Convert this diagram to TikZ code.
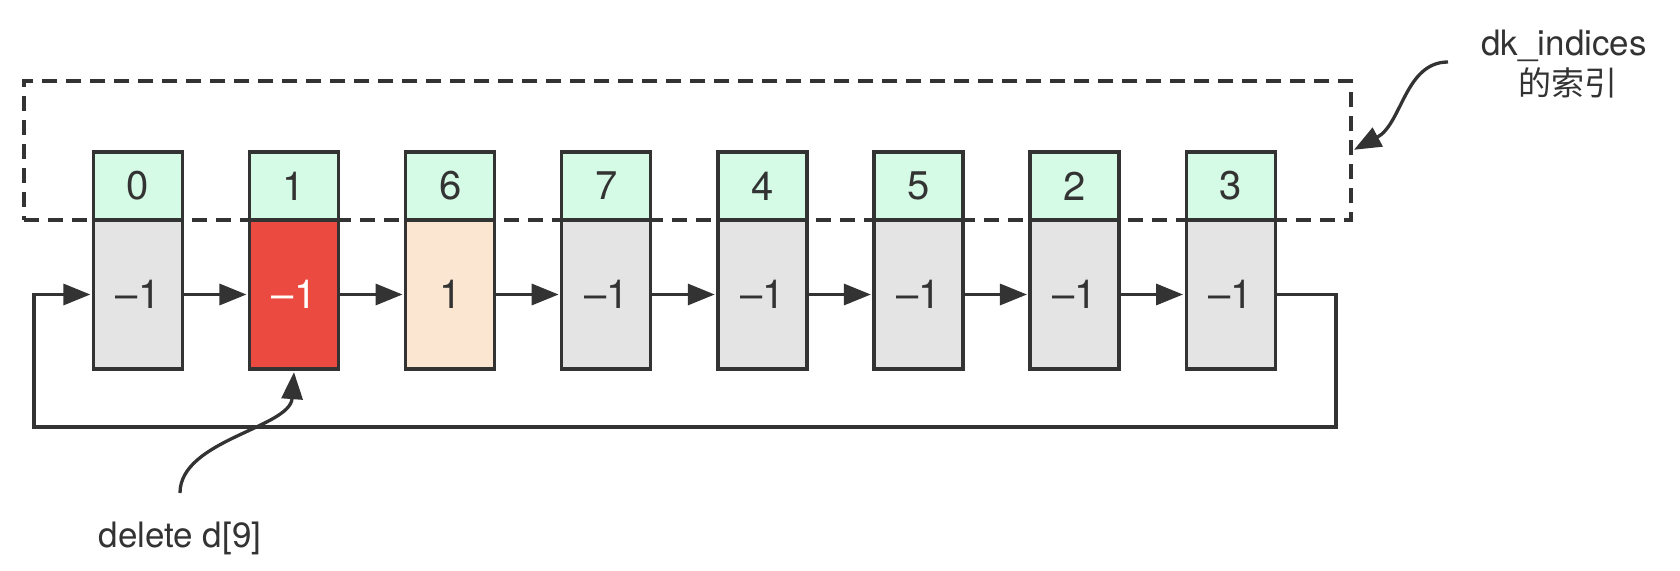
\documentclass[tikz,border=0pt]{standalone}
\usepackage{fontspec}
\setmainfont{TeX Gyre Heros}
\newfontfamily\cjk{Noto Sans CJK SC}
\usetikzlibrary{arrows.meta}
\definecolor{ln}{HTML}{333333}
\definecolor{topg}{HTML}{D5FAE6}
\definecolor{grayc}{HTML}{E4E4E4}
\definecolor{redc}{HTML}{EA4A40}
\definecolor{peach}{HTML}{FBE6D1}
\tikzset{
  cellbase/.style={draw=ln, line width=3.3pt, minimum width=89pt, inner sep=0pt,
    text=ln, font=\fontsize{40}{40}\selectfont},
  topcell/.style={cellbase, minimum height=68pt, fill=topg},
  botcell/.style={cellbase, minimum height=149pt, fill=grayc},
  conn/.style={draw=ln, line width=3.3pt, shorten >=1.5pt,
    -{Triangle[length=27pt,width=21pt]}},
  dashbox/.style={draw=ln, line width=3.3pt, dash pattern=on 15pt off 9pt, inner sep=0pt,
    minimum width=1327pt, minimum height=139pt},
  lbl/.style={text=ln, font=\fontsize{35}{35}\selectfont, inner sep=0pt, anchor=base},
}
\begin{document}
\begin{tikzpicture}[x=1pt,y=-1pt]
\useasboundingbox (0,0) rectangle (1680,570);
% dashed index frame
\node[dashbox] (idx) at (687.5,150.5) {};
% cells
\foreach \i/\t/\b/\f/\c in {0/0/–1/grayc/ln,1/1/–1/redc/white,2/6/1/peach/ln,3/7/–1/grayc/ln,
    4/4/–1/grayc/ln,5/5/–1/grayc/ln,6/2/–1/grayc/ln,7/3/–1/grayc/ln}{
  \node[botcell, fill=\f, text=\c] (b\i) at ({138+156.1*\i},294.5) {\b};
  \node[topcell] (t\i) at ({138+156.1*\i},186) {\t};
}
% chain arrows
\foreach \i [evaluate=\i as \j using int(\i+1)] in {0,...,6}{
  \draw[conn] (b\i.east) -- (b\j.west);
}
% loop back
\coordinate (lr) at (1336,427);
\coordinate (ll) at (34,427);
\draw[conn] (b7.east) -| (lr) -- (ll) |- (b0.west);
% labels
\node[lbl] (lblA) at (1564,55) {dk\_indices};
\node[lbl, font=\cjk\fontsize{33}{33}\selectfont] (lblB) at (1568,95) {的索引};
\node[lbl] (lblC) at (180,547) {delete d[9]};
% curved pointers
\coordinate (s1) at (1448,62);
\draw[conn] (s1) .. controls (1405,62) and (1402,124) .. (idx.east);
\coordinate (s2) at (180,493);
\draw[conn] (s2) .. controls (180,440) and (290,428) .. (b1.south);
\end{tikzpicture}
\end{document}
